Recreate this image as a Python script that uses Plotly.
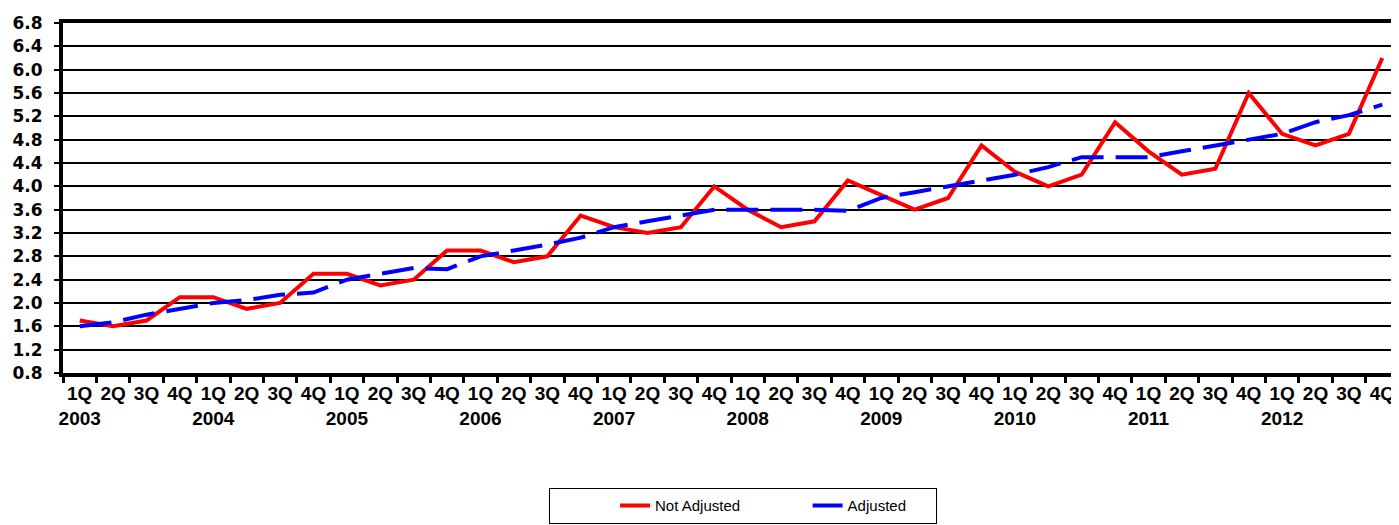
import plotly.graph_objects as go

years = [str(y) for y in range(2003, 2013)]
quarters = ["1Q", "2Q", "3Q", "4Q"]

not_adjusted = [1.7, 1.6, 1.7, 2.1,
                2.1, 1.9, 2.0, 2.5,
                2.5, 2.3, 2.4, 2.9,
                2.9, 2.7, 2.8, 3.5,
                3.3, 3.2, 3.3, 4.0,
                3.6, 3.3, 3.4, 4.1,
                3.85, 3.6, 3.8, 4.7,
                4.25, 4.0, 4.2, 5.1,
                4.6, 4.2, 4.3, 5.6,
                4.9, 4.7, 4.9, 6.2]

adjusted = [1.6, 1.67, 1.8, 1.9,
            2.0, 2.05, 2.14, 2.18,
            2.4, 2.5, 2.6, 2.58,
            2.8, 2.9, 3.0, 3.12,
            3.3, 3.4, 3.5, 3.6,
            3.6, 3.6, 3.6, 3.58,
            3.8, 3.9, 4.0, 4.1,
            4.2, 4.33, 4.5, 4.5,
            4.5, 4.6, 4.7, 4.8,
            4.9, 5.1, 5.22, 5.4]

y_ticks = [0.8, 1.2, 1.6, 2.0, 2.4, 2.8, 3.2, 3.6, 4.0, 4.4, 4.8, 5.2, 5.6, 6.0, 6.4, 6.8]

cats = [f"{q} {y}" for y in years for q in quarters]
tick_text = [f"{q}<br>{y}" if q == "1Q" else q for y in years for q in quarters]

NB = "&nbsp;"

fig = go.Figure()
fig.add_trace(go.Scatter(x=cats, y=not_adjusted, mode="lines", name="Not Adjusted" + NB * 15,
                         line=dict(color="#ff0000", width=4)))
fig.add_trace(go.Scatter(x=cats, y=adjusted, mode="lines", name="Adjusted" + NB * 6,
                         line=dict(color="#0000ff", width=4, dash="32px,12px")))

fig.update_layout(
    width=1391, height=517,
    margin=dict(l=55, r=0, t=15, b=152),
    plot_bgcolor="white", paper_bgcolor="white",
    showlegend=True,
    legend=dict(orientation="h", x=0.509, xanchor="center", y=-0.329, yanchor="top",
                bordercolor="black", borderwidth=1,
                title=dict(text=NB * 11, side="left"),
                font=dict(family="Liberation Sans, Arial", size=15, color="black")),
    xaxis=dict(type="category", categoryorder="array", categoryarray=cats,
               range=[-0.5, 39.5], tickmode="array", tickvals=cats, ticktext=tick_text,
               tickson="boundaries", ticks="outside", ticklen=6, tickwidth=3, tickcolor="black",
               showline=True, linewidth=4, linecolor="black", mirror=True,
               showgrid=False, tickangle=0, automargin=False,
               tickfont=dict(family="Liberation Sans, Arial", size=19, color="black", weight="bold")),
    yaxis=dict(range=[0.8, 6.8], tickmode="array", tickvals=y_ticks,
               ticktext=[f"{v:.1f}" for v in y_ticks],
               ticks="outside", ticklen=5, tickwidth=2, tickcolor="black",
               ticklabelstandoff=8,
               showline=True, linewidth=4, linecolor="black",
               showgrid=True, gridcolor="black", gridwidth=2, zeroline=False, automargin=False,
               tickfont=dict(family="DejaVu Sans", size=17, color="black", weight="bold")),
)

fig.write_html("out.html")
